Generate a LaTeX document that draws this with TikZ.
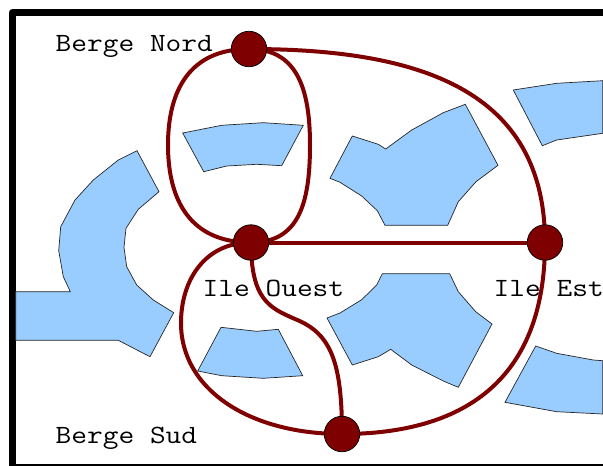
\documentclass[tikz,border=0pt]{standalone}
\pgfdeclarelayer{under}
\pgfsetlayers{under,main}
\definecolor{bridge}{HTML}{7F0000}
\definecolor{water}{HTML}{99CCFF}
\tikzset{
  land/.style={draw=black!85,line width=0.7pt,fill=water,line join=miter},
  vertexdot/.style={circle,draw=black,line width=0.7pt,fill=bridge,minimum size=35.5pt,inner sep=0pt},
  bridgeline/.style={draw=bridge,line width=4pt},
  place/.style={anchor=base west,inner sep=0pt,xscale=1.16,font=\fontsize{26.3}{30}\selectfont\ttfamily},
  frameline/.style={draw=black,line width=7pt,line join=round}
}
\begin{document}
\begin{tikzpicture}[x=1pt,y=-1pt]
\useasboundingbox (0,0) rectangle (603,466);
\node[vertexdot] (N) at (249,49) {};
\node[vertexdot] (W) at (251,242.5) {};
\node[vertexdot] (E) at (545,242.5) {};
\node[vertexdot] (S) at (342,434) {};
\begin{pgfonlayer}{under}
\draw[frameline] (12.5,12.5) rectangle (720,467);
\draw[land] (182.7,133) -- (221.7,125.3) -- (263.3,122.7) -- (303.3,125.3) -- (281.7,165.7) -- (256.7,164.3) -- (226.7,166) -- (203.7,171.7) -- cycle;
\draw[land] (221,327.3) -- (256.7,331.3) -- (278.3,329.3) -- (302.7,375.7) -- (263.3,378.3) -- (221.7,375.7) -- (197.7,371) -- cycle;
\draw[land] (137,150.7) -- (159,191.7) -- (138.3,209.3) -- (126,228.3) -- (124,247.3) -- (126.7,266.7) -- (136.7,285) -- (153.3,300) -- (173.7,312.7) -- (150,356.7) -- (118.3,340.3) -- (15.7,340.3) -- (15.7,291.7) -- (70.3,291.7) -- (63.3,276.7) -- (58.7,250.7) -- (60.7,226.7) -- (75,200) -- (93.3,180) -- (118.3,160) -- cycle;
\draw[land] (352.3,136) -- (378.3,144.3) -- (385.7,149) -- (411.7,130) -- (443.3,112.7) -- (465.3,104.3) -- (498,165.3) -- (476,181.7) -- (458.3,201.7) -- (447.7,225.3) -- (385,225.3) -- (377.3,210.7) -- (361.7,196) -- (340,182.3) -- (330,178.3) -- cycle;
\draw[land] (382.3,273.7) -- (449.7,273.7) -- (458.3,291.7) -- (475.7,311.7) -- (492,324) -- (458.3,387.3) -- (443.3,381) -- (411.7,365) -- (390.7,349.3) -- (378.3,356.7) -- (352.3,365) -- (327,318) -- (340,313) -- (361.7,299.7) -- (376.7,285) -- cycle;
\draw[land] (513.3,90) -- (556.7,83.3) -- (602.7,80.7) -- (602.7,133.3) -- (556.7,140) -- (542.3,145.7) -- cycle;
\draw[land] (535.7,346) -- (556.7,353.3) -- (593.3,360) -- (602.7,360.7) -- (602.7,414) -- (556.7,411.7) -- (505,402.3) -- cycle;
\node[place] (tn) at (55.5,51) {Berge Nord};
\node[place] (ts) at (55.5,443.6) {Berge Sud};
\node[place] (to) at (202.5,296) {Ile Ouest};
\node[place] (te) at (493.5,296) {Ile Est};
\draw[bridgeline] (N.center) .. controls (190,49) and (168,90) .. (168,145) .. controls (168,200) and (190,242.5) .. (W.center);
\draw[bridgeline] (N.center) .. controls (295,49) and (310,85) .. (310,145) .. controls (310,205) and (298,242.5) .. (W.center);
\draw[bridgeline] (N.center) .. controls (420,49) and (545,90) .. (E.center);
\draw[bridgeline] (W.center) -- (E.center);
\draw[bridgeline] (W.center) .. controls (205,242.5) and (181,280) .. (181,323) .. controls (181,390) and (250,434) .. (S.center);
\draw[bridgeline] (W.center) .. controls (251,300) and (270,308) .. (295,319) .. controls (330,333) and (342,360) .. (S.center);
\draw[bridgeline] (S.center) .. controls (452,434) and (545,390) .. (E.center);
\end{pgfonlayer}
\end{tikzpicture}
\end{document}
